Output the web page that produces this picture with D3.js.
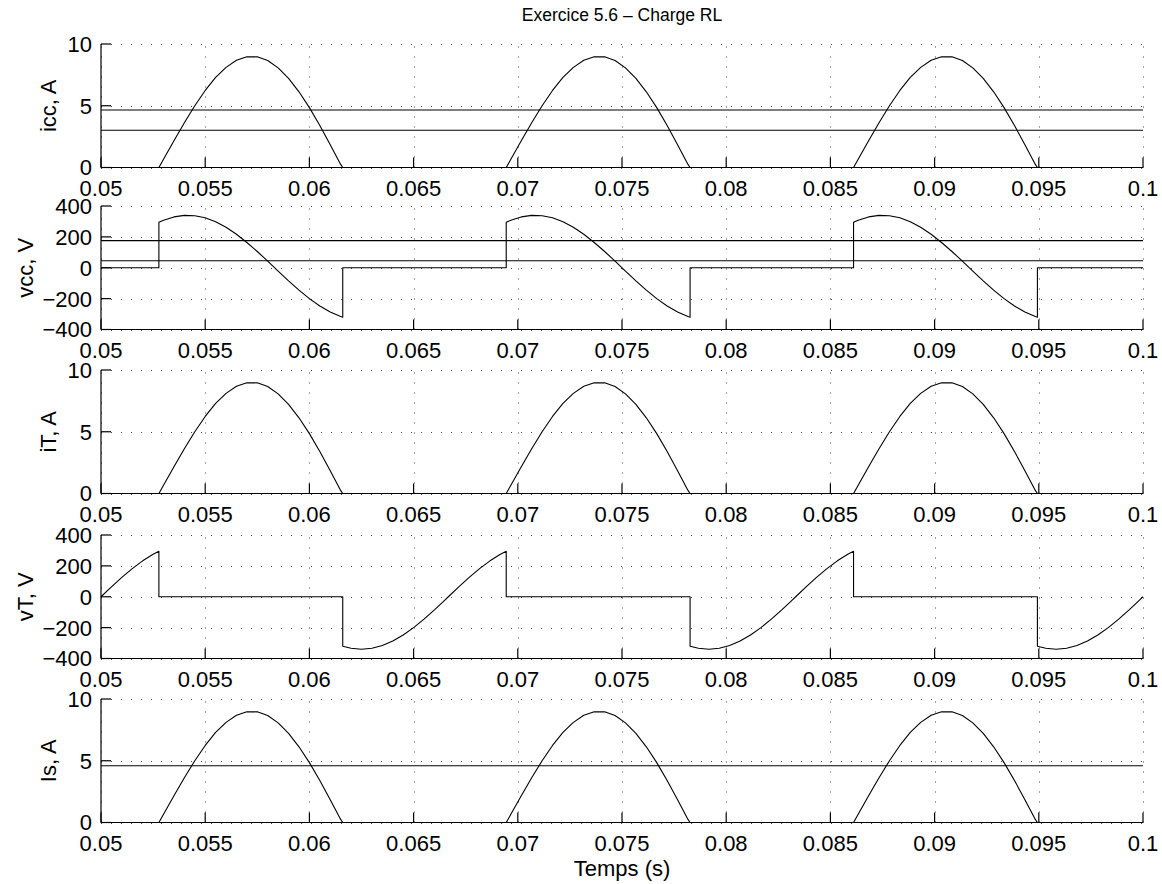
<!DOCTYPE html>
<html>
<head>
<meta charset="utf-8">
<script src="https://cdn.jsdelivr.net/npm/d3@7"></script>
<style>
  body { margin: 0; background: #fff; }
  svg { display: block; }
  text { font-family: "Liberation Sans", Arial, Helvetica, sans-serif; fill: #000; }
</style>
</head>
<body>
<div id="chart"></div>
<script>
const WIDTH = 1162;
const HEIGHT = 884;
const X_LEFT = 101;
const X_RIGHT = 1143;
const PANEL_TOPS = [44, 206, 370, 535, 699];
const PANEL_H = 123.5;
const TICK_LEN = 10;

// one 60 Hz cycle, offsets in s from each cycle start
const cycleStarts = [0.05, 0.0666667, 0.0833333];
const cycleOffsets = [
  0, 0.0005, 0.001, 0.0015, 0.002, 0.0025, 0.002778, 0.002778,
  0.003, 0.0035, 0.004, 0.0045, 0.005, 0.0055, 0.006, 0.0065, 0.007,
  0.0075, 0.008, 0.0085, 0.009, 0.0095, 0.01, 0.0105, 0.011, 0.0115,
  0.0116, 0.0116,
  0.012, 0.0125, 0.013, 0.0135, 0.014, 0.0145, 0.015, 0.0155, 0.016, 0.0165,
  0.016667
];
// icc = iT = Is
const currentCycle = [
  0, 0, 0, 0, 0, 0, 0, 0,
  0.66, 2.16, 3.62, 5.0, 6.24, 7.29, 8.11, 8.68, 8.97,
  8.96, 8.66, 8.07, 7.22, 6.13, 4.85, 3.4, 1.85, 0.25,
  0, 0,
  0, 0, 0, 0, 0, 0, 0, 0, 0, 0,
  0
];
const vccCycle = [
  0, 0, 0, 0, 0, 0, 0, 294.4,
  307.6, 329.3, 339.3, 337.3, 323.4, 297.9, 262.0, 216.7, 163.8,
  105.1, 42.6, -21.3, -84.6, -144.8, -199.8, -247.9, -287.1, -316.1,
  -320.7, 0,
  0, 0, 0, 0, 0, 0, 0, 0, 0, 0,
  0
];
const vTCycle = [
  0, 63.7, 125.2, 182.2, 232.7, 275.1, 294.4, 0,
  0, 0, 0, 0, 0, 0, 0, 0, 0,
  0, 0, 0, 0, 0, 0, 0, 0, 0,
  0, -320.7,
  -334.0, -340.0, -334.0, -316.1, -287.1, -247.9, -199.8, -144.8, -84.6, -21.3,
  0
];

// horizontal reference levels (mean / rms)
const iccLevels = [4.65, 3.02];
const vccLevels = [176, 45];
const iTLevels = [];
const vTLevels = [];
const isLevels = [4.6];

const xTicks = [0.05, 0.055, 0.06, 0.065, 0.07, 0.075, 0.08, 0.085, 0.09, 0.095, 0.1];
const xTickLabels = ["0.05", "0.055", "0.06", "0.065", "0.07", "0.075", "0.08", "0.085", "0.09", "0.095", "0.1"];
const currentTicks = [0, 5, 10];
const voltageTicks = [-400, -200, 0, 200, 400];

const panelLabels = ["icc, A", "vcc, V", "iT, A", "vT, V", "Is, A"];

function buildSeries(values) {
  return cycleStarts.flatMap((start) =>
    cycleOffsets.map((off, i) => ({ t: Math.min(start + off, 0.1), v: values[i] }))
  );
}

const panels = [
  { label: panelLabels[0], values: currentCycle, domain: [0, 10], ticks: currentTicks, levels: iccLevels, labelX: 56 },
  { label: panelLabels[1], values: vccCycle, domain: [-400, 400], ticks: voltageTicks, levels: vccLevels, labelX: 33 },
  { label: panelLabels[2], values: currentCycle, domain: [0, 10], ticks: currentTicks, levels: iTLevels, labelX: 56 },
  { label: panelLabels[3], values: vTCycle, domain: [-400, 400], ticks: voltageTicks, levels: vTLevels, labelX: 33 },
  { label: panelLabels[4], values: currentCycle, domain: [0, 10], ticks: currentTicks, levels: isLevels, labelX: 56 },
];

const svg = d3.select("#chart")
  .append("svg")
  .attr("width", WIDTH)
  .attr("height", HEIGHT)
  .attr("viewBox", `0 0 ${WIDTH} ${HEIGHT}`);

const x = d3.scaleLinear().domain([0.05, 0.1]).range([X_LEFT, X_RIGHT]);

svg.append("text")
  .attr("x", (X_LEFT + X_RIGHT) / 2)
  .attr("y", 21)
  .attr("text-anchor", "middle")
  .attr("font-size", "17.5px")
  .text("Exercice 5.6 – Charge RL");

panels.forEach((p, k) => {
  const top = PANEL_TOPS[k];
  const bottom = top + PANEL_H;
  const y = d3.scaleLinear().domain(p.domain).range([bottom, top]);
  const g = svg.append("g");

  // dotted grid
  const grid = g.append("g")
    .attr("stroke", "#444")
    .attr("stroke-width", 1)
    .attr("stroke-dasharray", "1,9");
  grid.selectAll("line.gx")
    .data(xTicks)
    .join("line")
    .attr("class", "gx")
    .attr("x1", (d) => Math.round(x(d)) + 0.5)
    .attr("x2", (d) => Math.round(x(d)) + 0.5)
    .attr("y1", bottom)
    .attr("y2", top);
  grid.selectAll("line.gy")
    .data(p.ticks)
    .join("line")
    .attr("class", "gy")
    .attr("x1", X_LEFT)
    .attr("x2", X_RIGHT)
    .attr("y1", (d) => Math.round(y(d)) + 0.5)
    .attr("y2", (d) => Math.round(y(d)) + 0.5);

  // reference levels
  g.append("g")
    .selectAll("line")
    .data(p.levels)
    .join("line")
    .attr("x1", x(0.05))
    .attr("x2", x(0.1))
    .attr("y1", (d) => y(d))
    .attr("y2", (d) => y(d))
    .attr("stroke", "#000")
    .attr("stroke-width", 1.1);

  // waveform
  const line = d3.line()
    .x((d) => x(d.t))
    .y((d) => y(d.v));
  g.append("path")
    .datum(buildSeries(p.values))
    .attr("d", line)
    .attr("fill", "none")
    .attr("stroke", "#000")
    .attr("stroke-width", 1.1)
    .attr("stroke-linejoin", "round");

  // axes: left and bottom only, ticks pointing inward
  const axisG = g.append("g").attr("stroke", "#000").attr("stroke-width", 1.2);
  axisG.append("line")
    .attr("x1", X_LEFT).attr("x2", X_LEFT)
    .attr("y1", top).attr("y2", bottom);
  axisG.append("line")
    .attr("x1", X_LEFT).attr("x2", X_RIGHT)
    .attr("y1", bottom).attr("y2", bottom);
  axisG.selectAll("line.tx")
    .data(xTicks)
    .join("line")
    .attr("class", "tx")
    .attr("x1", (d) => x(d)).attr("x2", (d) => x(d))
    .attr("y1", bottom).attr("y2", bottom - TICK_LEN);
  axisG.selectAll("line.ty")
    .data(p.ticks)
    .join("line")
    .attr("class", "ty")
    .attr("x1", X_LEFT).attr("x2", X_LEFT + TICK_LEN)
    .attr("y1", (d) => y(d)).attr("y2", (d) => y(d));

  // tick labels
  g.append("g")
    .selectAll("text")
    .data(xTicks)
    .join("text")
    .attr("x", (d) => x(d))
    .attr("y", bottom + 28)
    .attr("text-anchor", "middle")
    .attr("font-size", "22px")
    .text((d, i) => xTickLabels[i]);
  g.append("g")
    .selectAll("text")
    .data(p.ticks)
    .join("text")
    .attr("x", X_LEFT - 9)
    .attr("y", (d) => y(d))
    .attr("dy", "0.36em")
    .attr("text-anchor", "end")
    .attr("font-size", "22px")
    .text((d) => (d < 0 ? "\u2212" + Math.abs(d) : String(d)));

  // y label
  g.append("text")
    .attr("transform", `translate(${p.labelX},${(top + bottom) / 2}) rotate(-90)`)
    .attr("text-anchor", "middle")
    .attr("font-size", "22px")
    .text(p.label);
});

svg.append("text")
  .attr("x", (X_LEFT + X_RIGHT) / 2)
  .attr("y", 876)
  .attr("text-anchor", "middle")
  .attr("font-size", "22px")
  .text("Temps (s)");
</script>
</body>
</html>
